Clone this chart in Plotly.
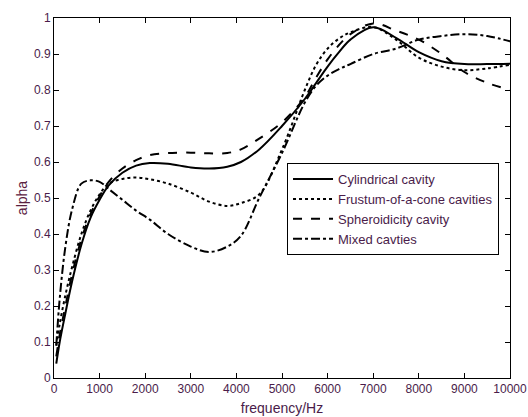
import plotly.graph_objects as go

freq = [50, 125, 250, 400, 600, 800, 1000, 1200, 1500, 1800, 2100, 2500, 3000, 3400,
        3800, 4100, 4500, 5000, 5500, 5750, 6000, 6250, 6500, 7000, 7500, 8000, 8500,
        9000, 9500, 10000]

cylindrical = [0.04, 0.10, 0.18, 0.27, 0.37, 0.445, 0.495, 0.535, 0.57, 0.59, 0.597, 0.595,
               0.585, 0.582, 0.587, 0.60, 0.635, 0.70, 0.775, 0.82, 0.865, 0.905, 0.94,
               0.974, 0.945, 0.905, 0.88, 0.872, 0.872, 0.873]
frustum = [0.09, 0.15, 0.23, 0.31, 0.40, 0.465, 0.51, 0.54, 0.553, 0.557, 0.552, 0.54,
           0.515, 0.49, 0.478, 0.486, 0.51, 0.635, 0.80, 0.87, 0.915, 0.943, 0.96,
           0.975, 0.94, 0.89, 0.865, 0.855, 0.86, 0.87]
spheroid = [0.06, 0.12, 0.20, 0.29, 0.385, 0.455, 0.505, 0.545, 0.582, 0.605, 0.619, 0.625,
            0.626, 0.624, 0.625, 0.635, 0.665, 0.71, 0.78, 0.835, 0.885, 0.925, 0.955,
            0.985, 0.965, 0.94, 0.90, 0.85, 0.82, 0.80]
mixed = [0.09, 0.22, 0.365, 0.47, 0.54, 0.549, 0.545, 0.525, 0.495, 0.465, 0.44, 0.40,
         0.365, 0.35, 0.365, 0.395, 0.50, 0.625, 0.765, 0.812, 0.84, 0.858, 0.872,
         0.90, 0.915, 0.94, 0.95, 0.955, 0.95, 0.935]

names = ["Cylindrical cavity", "Frustum-of-a-cone cavities", "Spheroidicity cavity", "Mixed cavties"]
series = [cylindrical, frustum, spheroid, mixed]
dashes = ["solid", "dot", "dash", "dashdot"]

xticks = list(range(0, 10001, 1000))
xlabels = [str(v) for v in xticks]
yticks = [i / 10 for i in range(11)]
ylabels = ["0", "0.1", "0.2", "0.3", "0.4", "0.5", "0.6", "0.7", "0.8", "0.9", "1"]

fig = go.Figure()
for n, s, d in zip(names, series, dashes):
    fig.add_trace(go.Scatter(x=freq, y=s, mode="lines", name=n,
                             line=dict(color="black", dash=d, width=2, shape="spline", smoothing=1)))

txt = "#4a1c4a"
fig.update_layout(
    width=528, height=417,
    margin=dict(l=54, r=18, t=18, b=39),
    paper_bgcolor="white", plot_bgcolor="white",
    font=dict(family="Liberation Sans, Arial", size=12, color=txt),
    showlegend=True,
    legend=dict(x=0.511, y=0.597, xanchor="left", yanchor="top",
                bgcolor="white", bordercolor="black", borderwidth=1,
                font=dict(size=13, color=txt), itemwidth=40,
                tracegroupgap=0),
)
fig.update_xaxes(range=[0, 10000], tickvals=xticks, ticktext=xlabels, automargin=False,
                 ticks="inside", ticklen=5, tickcolor="black", showline=True,
                 linecolor="black", linewidth=1, mirror="ticks", showgrid=False,
                 zeroline=False, title=dict(text="frequency/Hz", standoff=7),
                 tickfont=dict(color=txt))
fig.update_yaxes(range=[0, 1], tickvals=yticks, ticktext=ylabels, automargin=False,
                 ticks="inside", ticklen=5, tickcolor="black", showline=True,
                 linecolor="black", linewidth=1, mirror="ticks", showgrid=False,
                 zeroline=False, title=dict(text="alpha", standoff=3, font=dict(color="#5a2040")),
                 tickfont=dict(color=txt))

fig.write_html("out.html")
